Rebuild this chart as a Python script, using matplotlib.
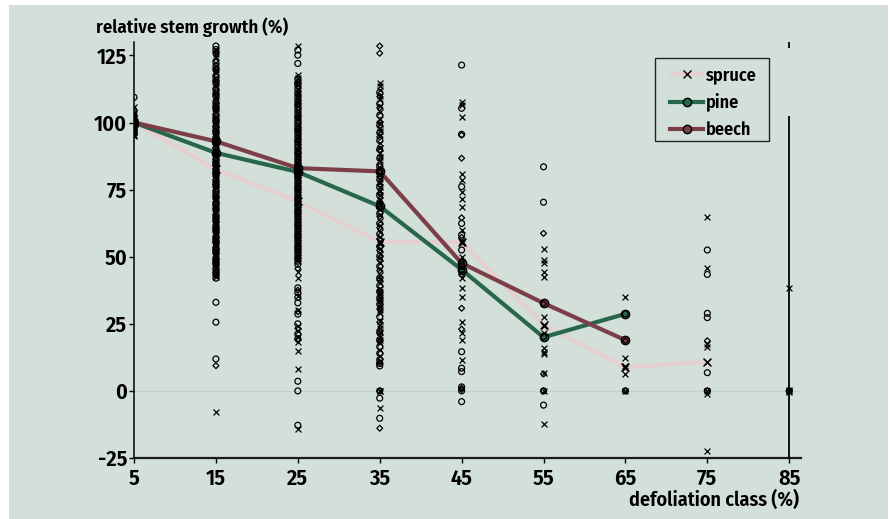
import matplotlib
matplotlib.use("Agg")
import matplotlib.pyplot as plt
from matplotlib.patches import Rectangle

plt.rcParams['font.family'] = ['Fira Sans Condensed', 'PT Sans Narrow', 'Liberation Sans', 'DejaVu Sans']
plt.rcParams['font.weight'] = 'semibold'
plt.rcParams['axes.unicode_minus'] = False

BG = '#d3dfd9'

classes = [5, 15, 25, 35, 45, 55, 65, 75, 85]
xtick_labels = ['5', '15', '25', '35', '45', '55', '65', '75', '85']
yticks = [-25, 0, 25, 50, 75, 100, 125]

# individual observations per defoliation class (same order as classes)
spruce_obs = [
    [105.9, 103.5, 102, 101, 100.5, 99.8, 99, 98.2, 97.5, 96.5, 95.5, 94.8],
    [127, 125.5, 124.5, 121, 119.7, 118.3, 116, 114.6, 113.2, 111, 109.8, 108.5, 106.1, 105, 104,
     101.7, 100.6, 99.5, 97.2, 96.1, 95, 93.4, 92.3, 91.1, 89.2, 88.1, 87, 85.3, 84.2, 83.1, 81.6,
     80.5, 79.4, 77.2, 76.3, 75.5, 73.1, 72, 71, 68.8, 67.7, 66.5, 64.2, 63.2, 62.3, 60.1, 59.2,
     58.4, 56.2, 55.1, 54, 52.3, 51.2, 50.1, 48.5, 47.3, 46.2, 44.1, 43.2, 42.3, -8],
    [128.5, 117.7, 116.5, 115.2, 113.8, 112.4, 111, 109.6, 108.4, 107.2, 106, 104.8, 103.4, 102.1,
     100.9, 99.6, 98.4, 97.3, 96.2, 95.1, 93.8, 92.6, 91.4, 90.2, 89.3, 88.4, 87.2, 86.1, 85, 83.9,
     82.8, 81.7, 80.6, 79.5, 78.4, 77.3, 76.3, 75.2, 74.1, 73, 71.8, 70.6, 69.5, 68.4, 67.3, 66.2,
     65.1, 64.1, 63, 61.8, 60.7, 59.6, 58.4, 57.3, 56.2, 55.1, 53.9, 52.8, 51.7, 50.6, 49.5, 48.4,
     44.4, 42, 35.2, 30, 24.1, 22.3, 20.2, 18.4, 15, 8.2, -14.2],
    [114.7, 113.5, 112, 110, 108.6, 106.2, 104, 101.3, 99.5, 98, 96.8, 95.5, 92.2, 90.5, 88.8,
     87.3, 85.9, 83.2, 80.8, 79.1, 77.7, 76, 74.4, 72.9, 71.3, 69.4, 67.6, 65.5, 63.4, 61.3, 59.2,
     57.4, 55.6, 55.2, 54.8, 53, 51.1, 49.4, 47.6, 45.4, 43.2, 41.8, 40.3, 38, 37, 35.9, 34.6, 33.4,
     32.2, 31.2, 30.2, 29.2, 26, 24.4, 23.6, 22, 20.2, 19, 17.7, 15.3, 12.9, 11.1, 0, 0, -6.5],
    [107.7, 106.5, 102.2, 81, 78.6, 74.2, 71.4, 68.4, 60, 56, 55.5, 55, 50, 42, 38.2, 35.1, 25.8,
     21.6, 19, 11.5],
    [52.9, 48.8, 47.6, 44.4, 42.6, 27.4, 24.6, 24, 21.7, 15.9, 14.6, 13.8, 6.8, 0, -12.3],
    [35.1, 12.2, 9.3, 8.5, 6.3, 0],
    [64.9, 45.7, 17.4, 16.5, 10.9, 0, -1.2, -22.3],
    [38.2, 0, 0.4, -0.4],
]
pine_obs = [
    [109.4, 104.5, 102.5, 101.2, 100.2, 99.5, 98.8, 97.8, 96.8, 95.8],
    [128.5, 127.2, 125.8, 122.4, 121, 119.6, 117.1, 115.8, 114.6, 112.2, 110.9, 109.8, 107.3, 106.2,
     105.2, 102.8, 101.7, 100.6, 98.4, 97.3, 96.3, 94.1, 93.2, 92.4, 90.2, 89.1, 88.1, 86.2, 85.3,
     84.4, 82.3, 81.4, 80.5, 78.3, 77.3, 76.4, 74.2, 73.2, 72.1, 70, 69, 67.6, 65.3, 64.2, 63.1,
     61.2, 60.2, 59.3, 57.1, 56.1, 55.2, 53.1, 52.2, 51.3, 49.2, 48.3, 47.4, 45.3, 44.2, 43.2, 42,
     33, 25.6, 11.9],
    [127, 125.1, 122, 116.3, 114.9, 113.8, 112.5, 111.1, 109.6, 108.2, 107, 105.9, 104.6, 103.4,
     102.1, 100.8, 99.7, 98.5, 97.4, 96.4, 95.2, 94, 92.8, 91.7, 90.6, 89.4, 88.3, 87.2, 86.1, 85,
     83.8, 82.6, 81.6, 80.6, 79.5, 78.4, 77.3, 76.2, 75.1, 74.1, 72.9, 71.8, 70.6, 69.5, 68.3, 67.2,
     66.1, 65, 63.9, 62.7, 61.6, 60.5, 59.4, 58.3, 57.2, 56.2, 55, 53.9, 52.8, 51.8, 50.6, 49.5,
     48.3, 47.2, 38.4, 36.6, 34.8, 32.8, 28.6, 25, 21.2, 19.5, 3.6, 0, -12.8],
    [111.2, 107, 102.7, 99, 96.2, 93.3, 90, 86.7, 83.5, 81.2, 78.8, 75.9, 72.8, 69.7, 68.8, 66.1,
     62.4, 58.4, 53.8, 50.2, 46.4, 42.1, 39.2, 36.9, 34.7, 32.3, 27.6, 22.2, 19.1, 16.5, 14, 11.6,
     10.2, 9.3, 0, -2.7, -10.2],
    [121.4, 105.3, 95.6, 76.1, 62.4, 58.1, 52.5, 46.4, 45.2, 44.5, 14.6, 8.5, 7.2, 1.5, 0, -4],
    [83.5, 70.3, 20.2, 0, -5.3],
    [28.7, 0],
    [52.5, 43.4, 28.9, 27.3, 6.8, 0],
    [0],
]
beech_obs = [
    [103.8, 102.2, 100.8, 100, 99.2, 98.5, 97.2, 96.2, 95.2],
    [126.3, 123.2, 120.1, 117.7, 115.3, 112.8, 110.4, 108.1, 105.8, 104.4, 103.1, 100.9, 99.9, 98.8,
     96.8, 95.7, 94.6, 92.9, 91.8, 90.7, 88.8, 87.7, 86.6, 84.8, 83.9, 82.9, 80.9, 79.9, 78.8, 76.9,
     75.8, 74.7, 72.6, 71.5, 70.4, 69.3, 68.1, 67, 65.8, 64.7, 63.6, 61.8, 60.8, 59.8, 57.7, 56.6,
     55.6, 53.6, 52.6, 51.7, 49.8, 48.8, 47.8, 46.8, 45.8, 44, 9.4],
    [114.5, 110.4, 106.6, 101.9, 97.8, 93.2, 88.8, 84.3, 83, 81.5, 79.8, 75.5, 71.2, 66.6, 62.1,
     57.7, 53.4, 49.3, 45.6, 37.5, 29.5, 23.3, 19],
    [128.5, 125.8, 109.7, 105.5, 100.1, 94.6, 89.6, 84.4, 81.8, 79.9, 76.8, 73.6, 70.6, 65, 60.8,
     56.6, 52.3, 48.9, 44.8, 41.3, 37.4, 33.8, 30.5, 25.6, 21.4, 18.4, 10.6, 0, -13.9],
    [95.3, 86.7, 64.5, 57.2, 48.2, 47.3, 43.3, 30.8, 23, 1, 0.5],
    [58.7, 32.5, 6.3, 0],
    [18.7, 0],
    [18.7, 0],
    [0],
]

# class means
spruce_classes = [5, 15, 25, 35, 45, 55, 65, 75]
spruce_mean = [100, 82.5, 70.6, 55.5, 55.5, 24.5, 8.8, 10.9]
pine_classes = [5, 15, 25, 35, 45, 55, 65]
pine_mean = [100, 88.7, 81.6, 68.8, 45.2, 20.0, 28.7]
beech_classes = [5, 15, 25, 35, 45, 55, 65]
beech_mean = [100, 93.0, 83.0, 81.8, 47.6, 32.7, 18.9]

# stray vertical rule at class 85
vrule_x = 85
vrule_low = [-25, 127.6]
vrule_high = [102.4, 130]

SPRUCE_C = '#e5cfd1'
PINE_C = '#27674b'
BEECH_C = '#7c3f48'

W, H = 892, 519
fig = plt.figure(figsize=(W / 100, H / 100), dpi=100)
fig.patch.set_facecolor('white')
fig.patches.append(Rectangle((9 / W, 0), (888 - 9) / W, 1 - 5 / H, transform=fig.transFigure,
                             facecolor=BG, edgecolor='none', zorder=-10))

ax = fig.add_axes([134 / W, 1 - 458 / H, (800.7 - 134) / W, (458 - 42) / H])
ax.set_facecolor('none')
ax.set_xlim(5, 86.4)
ax.set_ylim(-25, 130)

ax.axhline(0, color='#c3d1ca', lw=0.9, zorder=1)

ax.plot(spruce_classes, spruce_mean, color=SPRUCE_C, lw=3.0, marker='x', ms=5.5, mec='black',
        mew=1.0, label='spruce', zorder=2, solid_capstyle='butt')
ax.plot(pine_classes, pine_mean, color=PINE_C, lw=3.0, marker='o', ms=6, mec='black', mew=1.0,
        mfc=PINE_C, label='pine', zorder=2)
ax.plot(beech_classes, beech_mean, color=BEECH_C, lw=3.0, marker='o', ms=6, mec='black', mew=1.0,
        mfc=BEECH_C, label='beech', zorder=2)

for c, vals in zip(classes, spruce_obs):
    ax.scatter([c] * len(vals), vals, marker='x', s=18, c='black', linewidths=0.9, zorder=3)
for c, vals in zip(classes, pine_obs):
    ax.scatter([c] * len(vals), vals, marker='o', s=18, facecolors='none', edgecolors='black',
               linewidths=0.9, zorder=3)
for c, vals in zip(classes, beech_obs):
    ax.scatter([c] * len(vals), vals, marker='D', s=9, facecolors='none', edgecolors='black',
               linewidths=0.9, zorder=3)

ax.vlines([vrule_x] * len(vrule_low), vrule_low, vrule_high, color='black', lw=1.3, zorder=3)

ax.set_xticks(classes)
ax.set_xticklabels(xtick_labels)
ax.set_yticks(yticks)
ax.set_yticklabels([str(v) for v in yticks])
for s in ['top', 'right']:
    ax.spines[s].set_visible(False)
ax.spines['left'].set_linewidth(1.1)
ax.spines['bottom'].set_linewidth(1.6)
ax.spines['bottom'].set_color('#1a1a1a')
ax.tick_params(axis='both', direction='out', length=3.5, width=1, labelsize=16)
ax.tick_params(axis='x', pad=4)
ax.tick_params(axis='y', pad=1.5)

# legend frame drawn separately so the padding can match the reference
x0 = (655 - 134) / 666.7
x1 = (769 - 134) / 666.7
y0 = (458 - 141) / 416
y1 = (458 - 58) / 416
ax.add_patch(Rectangle((x0, y0), x1 - x0, y1 - y0, transform=ax.transAxes, facecolor=BG,
                       edgecolor='#222222', lw=1.0, zorder=4))
leg = ax.legend(loc='upper left', bbox_to_anchor=((670 - 134) / 666.7, (458 - 66) / 416),
                borderaxespad=0, borderpad=0, fontsize=13, frameon=False,
                handlelength=1.85, handletextpad=0.15, labelspacing=0.52)
leg.set_zorder(5)

fig.text(96 / W, 1 - 33 / H, 'relative stem growth (%)', fontsize=13.5, fontweight='semibold',
         ha='left', va='baseline')
fig.text(799 / W, 1 - 506 / H, 'defoliation class (%)', fontsize=14.5, fontweight='semibold',
         ha='right', va='baseline')

fig.savefig('out.png', dpi=100, facecolor='white')
